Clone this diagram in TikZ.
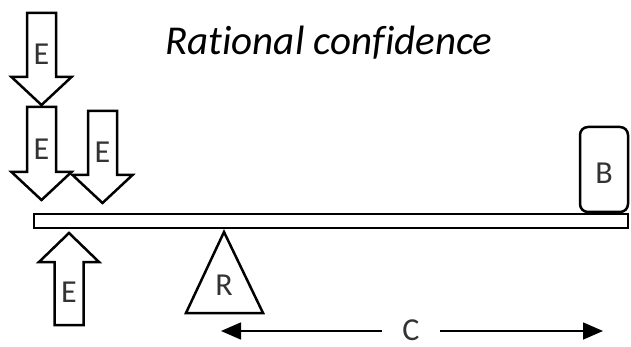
\documentclass[tikz,border=0pt]{standalone}
\usepackage{fontspec}
\setmainfont{Carlito}[Ligatures=NoCommon]
\usetikzlibrary{arrows.meta, positioning}

\tikzset{
  outl/.style={line width=1.25pt, line join=miter},
  letter/.style={font=\fontsize{16}{16}\selectfont, text=black!80, inner sep=0pt},
}

\begin{document}
\begin{tikzpicture}[x=0.5pt, y=-0.5pt]
    \useasboundingbox (0,0) rectangle (631,347);
    \node [font=\fontsize{20.5}{20.5}\selectfont\itshape, anchor=base] (title) at (329,55) {Rational confidence};
    % arrows pushing down: centre x / top / tip / name
    \foreach \x/\t/\b/\n in {41.5/13/105/e1, 41.5/107/200/e2, 102.5/111/203/e3} {
        \draw [outl] (\x-14.5,\t) -- (\x+14.5,\t) -- (\x+14.5,\b-28) -- (\x+30,\b-28) -- (\x,\b) -- (\x-30,\b-28) -- (\x-14.5,\b-28) -- cycle;
        \node [letter] (\n) at (\x,\b-51) {E};
    }
    % arrow pushing up
    \draw [outl] (54.5,325) -- (83.5,325) -- (83.5,262) -- (99,262) -- (69,233) -- (39,262) -- (54.5,262) -- cycle;
    \node [letter] (e4) at (69,292) {E};
    % beam, weight and fulcrum
    \draw [outl] (34,214) rectangle (628,228);
    \draw [outl, rounded corners=4pt] (580,127) rectangle (628,212);
    \node [letter] (b) at (604,173) {B};
    \draw [outl] (224,232) -- (263,313) -- (186,313) -- cycle;
    \node [letter] (r) at (224,285) {R};
    % distance
    \node [letter, inner xsep=10pt] (c) at (411,330) {C};
    \coordinate (cleft) at (221,331);
    \coordinate (cright) at (603,331);
    \draw [line width=0.8pt, -{Triangle[length=10pt, width=8.5pt]}] (c.west |- cleft) -- (cleft);
    \draw [line width=0.8pt, -{Triangle[length=10pt, width=8.5pt]}] (c.east |- cright) -- (cright);
\end{tikzpicture}
\end{document}
